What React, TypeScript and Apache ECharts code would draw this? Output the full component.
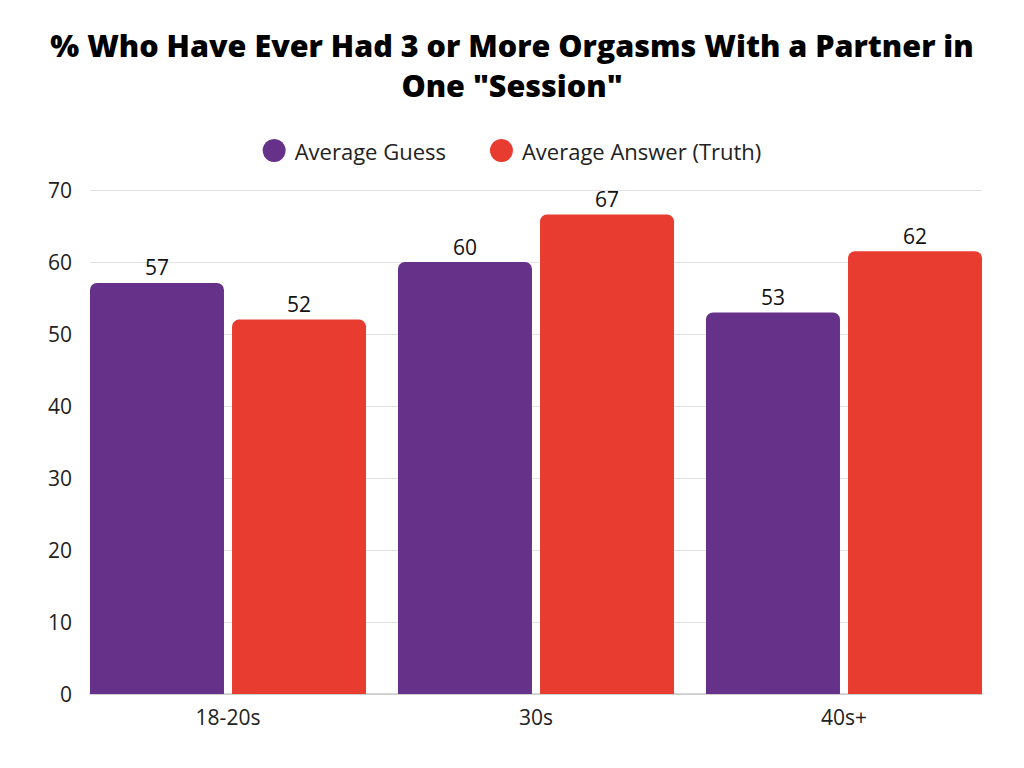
import React, { useEffect, useRef } from "react";
import * as echarts from "echarts";

const categories = ["18-20s", "30s", "40s+"];
const guessValues = [57.1, 60, 53];
const truthValues = [52, 66.6, 61.5];
const seriesNames = ["Average Guess", "Average Answer (Truth)"];
const yTicks = [0, 10, 20, 30, 40, 50, 60, 70];

const PURPLE = "#663289";
const RED = "#E83C31";
const FONT = "'Open Sans', 'Noto Sans', sans-serif";

export default function App() {
  const ref = useRef<HTMLDivElement>(null);
  useEffect(() => {
    if (!ref.current) return;
    const chart = echarts.init(ref.current, undefined, { renderer: "svg" });
    const labelCfg = {
      show: true,
      position: "top",
      distance: 5,
      color: "#111",
      fontSize: 21,
      fontFamily: FONT,
      formatter: (p: any) => String(Math.round(p.value)),
    };
    chart.setOption({
      animation: false,
      backgroundColor: "#ffffff",
      title: {
        text: '% Who Have Ever Had 3 or More Orgasms With a Partner in\nOne "Session"',
        left: "center",
        top: 20,
        textStyle: {
          fontFamily: FONT,
          fontWeight: 800,
          fontSize: 30.5,
          lineHeight: 40,
          color: "#000",
        },
      },
      legend: {
        top: 134,
        left: "center",
        icon: "circle",
        itemWidth: 23,
        itemHeight: 23,
        itemGap: 44,
        textStyle: { fontFamily: FONT, fontSize: 22, color: "#222", padding: [0, 0, 0, 4] },
        data: seriesNames,
      },
      grid: [
        { left: 74, right: 26, top: 190, bottom: 74 },
        { left: 90, right: 42, top: 190, bottom: 74 },
      ],
      xAxis: [
        {
          type: "category",
          gridIndex: 0,
          data: categories,
          axisLine: { show: false },
          axisTick: { show: false },
          axisLabel: { fontFamily: FONT, fontSize: 21, color: "#222", margin: 12 },
        },
        {
          type: "value",
          gridIndex: 1,
          show: true,
          min: 0,
          max: 1,
          axisLabel: { show: false },
          axisTick: { show: false },
          splitLine: { show: false },
          axisLine: { show: true, onZero: false, lineStyle: { color: "#c8c8c8", width: 1.5 } },
        },
      ],
      yAxis: [
        {
          type: "value",
          gridIndex: 0,
          min: 0,
          max: 70,
          interval: 10,
          show: false,
        },
        {
          type: "value",
          gridIndex: 1,
          min: yTicks[0],
          max: yTicks[yTicks.length - 1],
          interval: 10,
          axisLine: { show: false },
          axisTick: { show: false },
          axisLabel: { fontFamily: FONT, fontSize: 21, color: "#222", margin: 18 },
          splitLine: { show: true, lineStyle: { color: "#e3e3e3", width: 1 } },
        },
      ],
      series: [
        {
          name: seriesNames[0],
          type: "bar",
          xAxisIndex: 0,
          yAxisIndex: 0,
          data: guessValues,
          barWidth: 134,
          barGap: "6%",
          itemStyle: { color: PURPLE, borderRadius: [7, 7, 0, 0] },
          label: labelCfg,
          z: 3,
        },
        {
          name: seriesNames[1],
          type: "bar",
          xAxisIndex: 0,
          yAxisIndex: 0,
          data: truthValues,
          barWidth: 134,
          barGap: "6%",
          itemStyle: { color: RED, borderRadius: [7, 7, 0, 0] },
          label: labelCfg,
          z: 3,
        },
      ],
    });
    return () => chart.dispose();
  }, []);
  return (
    <div
      ref={ref}
      style={{ position: "fixed", left: 0, top: 0, width: 1024, height: 768, background: "#fff" }}
    />
  );
}
